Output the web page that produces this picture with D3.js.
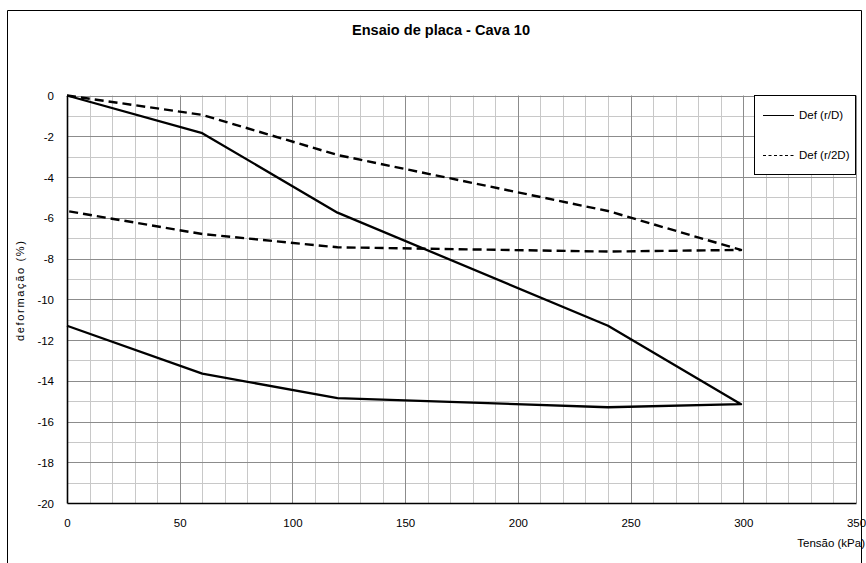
<!DOCTYPE html>
<html>
<head>
<meta charset="utf-8">
<script src="https://cdn.jsdelivr.net/npm/d3@7"></script>
<style>
  html, body { margin: 0; padding: 0; background: #fff; }
  svg { display: block; font-family: "Liberation Sans", Arial, sans-serif; }
</style>
</head>
<body>
<svg id="chart" width="866" height="563"></svg>
<script>
// Plate load test, pit 10: deformation vs applied stress (loading then unloading)
const tensao = [0, 60, 120, 240, 299, 240, 120, 60, 0];
const defRD = [0, -1.85, -5.75, -11.3, -15.15, -15.3, -14.85, -13.65, -11.3];
const defR2D = [0, -0.95, -2.92, -5.67, -7.58, -7.66, -7.45, -6.8, -5.67];

const xTicks = [0, 50, 100, 150, 200, 250, 300, 350];
const yTicks = [0, -2, -4, -6, -8, -10, -12, -14, -16, -18, -20];
const xMinor = d3.range(0, 351, 10);
const yMinor = d3.range(-20, 0.5, 1);

const seriesNames = ["Def (r/D)", "Def (r/2D)"];

const svg = d3.select("#chart");
const W = 866, H = 563;
const plot = { left: 67, right: 856, top: 95.5, bottom: 503 };

// outer chart frame (open at the bottom)
svg.append("path")
  .attr("d", `M7.5,${H + 2}V10.5H861.5V${H + 2}`)
  .attr("fill", "none").attr("stroke", "#000").attr("stroke-width", 1);

const x = d3.scaleLinear().domain([0, 350]).range([plot.left, plot.right]);
const y = d3.scaleLinear().domain([-20, 0]).range([plot.bottom, plot.top]);

// gridlines: minor first, then major on top
const grid = svg.append("g");
grid.selectAll("line.xm").data(xMinor.filter(v => v % 50 !== 0)).join("line")
  .attr("x1", d => Math.round(x(d)) + 0.5).attr("x2", d => Math.round(x(d)) + 0.5)
  .attr("y1", plot.top).attr("y2", plot.bottom)
  .attr("stroke", "#c8c8c8").attr("stroke-width", 1);
grid.selectAll("line.ym").data(yMinor.filter(v => v % 2 !== 0)).join("line")
  .attr("y1", d => Math.round(y(d)) + 0.5).attr("y2", d => Math.round(y(d)) + 0.5)
  .attr("x1", plot.left).attr("x2", plot.right)
  .attr("stroke", "#c8c8c8").attr("stroke-width", 1);
grid.selectAll("line.xM").data(xTicks.filter(v => v !== 0)).join("line")
  .attr("x1", d => Math.round(x(d)) + 0.5).attr("x2", d => Math.round(x(d)) + 0.5)
  .attr("y1", plot.top).attr("y2", plot.bottom)
  .attr("stroke", "#8c8c8c").attr("stroke-width", 1);
grid.selectAll("line.yM").data(yTicks.filter(v => v !== -20)).join("line")
  .attr("y1", d => Math.round(y(d)) + 0.5).attr("y2", d => Math.round(y(d)) + 0.5)
  .attr("x1", plot.left).attr("x2", plot.right)
  .attr("stroke", "#8c8c8c").attr("stroke-width", 1);

// axes
const xAxis = d3.axisBottom(x).tickValues(xTicks).tickSize(0).tickPadding(16);
const yAxis = d3.axisLeft(y).tickValues(yTicks).tickSize(0).tickPadding(13)
  .tickFormat(d => d === 0 ? "0" : d3.format("d")(d).replace("−", "-"));

const gx = svg.append("g").attr("transform", `translate(0,${plot.bottom})`).call(xAxis);
const gy = svg.append("g").attr("transform", `translate(${plot.left},0)`).call(yAxis);
[gx, gy].forEach(g => {
  g.select(".domain").attr("stroke", "#000").attr("stroke-width", 1.6);
  g.selectAll("text").attr("font-size", 11.5).attr("fill", "#000")
    .attr("font-family", "'Liberation Sans', Arial, sans-serif");
});
gy.selectAll("text").attr("dy", "0.36em");

// series
const line = d3.line().x(d => x(d[0])).y(d => y(d[1]));
const ptsRD = tensao.map((t, i) => [t, defRD[i]]);
const ptsR2D = tensao.map((t, i) => [t, defR2D[i]]);

svg.append("path").datum(ptsR2D).attr("d", line)
  .attr("fill", "none").attr("stroke", "#000").attr("stroke-width", 2.4)
  .attr("stroke-dasharray", "9,5").attr("stroke-linejoin", "round");
svg.append("path").datum(ptsRD).attr("d", line)
  .attr("fill", "none").attr("stroke", "#000").attr("stroke-width", 2.3)
  .attr("stroke-linejoin", "round");

// title and axis titles
svg.append("text").attr("x", 441).attr("y", 35).attr("text-anchor", "middle")
  .attr("font-size", 14).attr("font-weight", "bold")
  .attr("textLength", 178).attr("lengthAdjust", "spacingAndGlyphs")
  .text("Ensaio de placa - Cava 10");

svg.append("text").attr("transform", "translate(24,291) rotate(-90)")
  .attr("text-anchor", "middle").attr("font-size", 11)
  .attr("textLength", 100).attr("lengthAdjust", "spacing")
  .text("deformação (%)");

svg.append("text").attr("x", 865).attr("y", 547).attr("text-anchor", "end")
  .attr("font-size", 11.5).text("Tensão (kPa)");

// legend
const lg = svg.append("g");
lg.append("rect").attr("x", 754.5).attr("y", 95.5).attr("width", 101).attr("height", 79)
  .attr("fill", "#fff").attr("stroke", "#000").attr("stroke-width", 1);
const items = [
  { name: seriesNames[0], y: 115, dash: null },
  { name: seriesNames[1], y: 155, dash: "3,2.5" }
];
items.forEach(it => {
  lg.append("line").attr("x1", 763).attr("x2", 794).attr("y1", it.y + 0.5).attr("y2", it.y + 0.5)
    .attr("stroke", "#000").attr("stroke-width", 1)
    .attr("stroke-dasharray", it.dash);
  lg.append("text").attr("x", 799).attr("y", it.y).attr("dy", "0.35em")
    .attr("font-size", 11.5).text(it.name);
});
</script>
</body>
</html>
